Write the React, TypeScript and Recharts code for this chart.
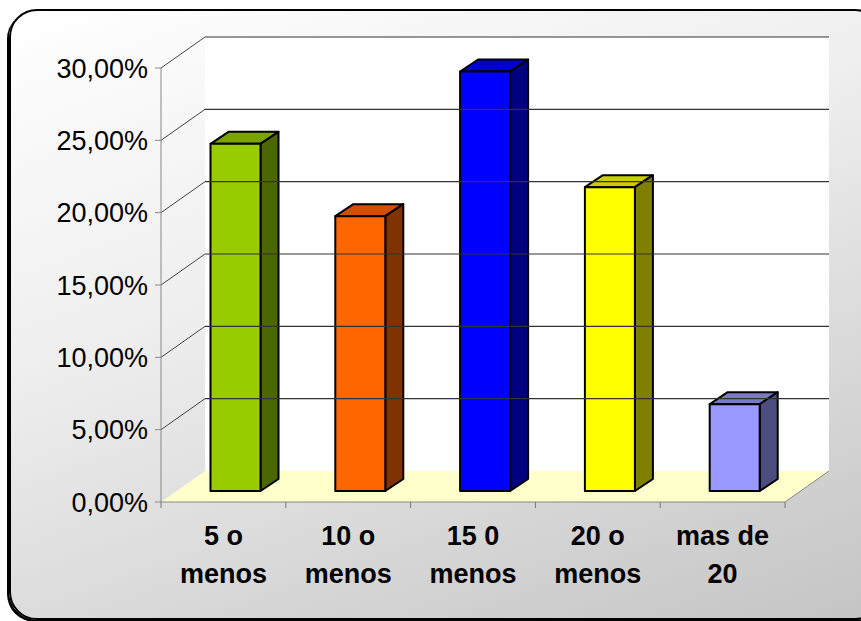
import React from "react";
import {
  BarChart, Bar, XAxis, YAxis, ReferenceArea, ReferenceLine, Cell,
} from "recharts";

const categories = ["5 o menos", "10 o menos", "15 0 menos", "20 o menos", "mas de 20"];
const shares = [24, 19, 29, 21, 6];
const yTicks = [0, 5, 10, 15, 20, 25, 30];

const frontColors = ["#99CC00", "#FF6600", "#0000FF", "#FFFF00", "#9999FF"];
const topColors = ["#7AA300", "#CC5200", "#0000CC", "#CCCC00", "#7A7ACC"];
const sideColors = ["#4C6600", "#803300", "#000080", "#808000", "#4D4D80"];

// 3D depth of the walls / floor and of the bars
const WALL_DX = 44, WALL_DY = -31;
const BAR_SHIFT_X = 12.5, BAR_SHIFT_Y = -11;
const BAR_DX = 18, BAR_DY = -12;

const rows = categories.map((name, i) => ({ name, value: shares[i], i }));

function Bar3D(props: any) {
  const { x, y, width, height, payload } = props;
  const i = payload.i;
  const fx = x + BAR_SHIFT_X, fy = y + BAR_SHIFT_Y;
  const w = width, h = height;
  const top = `${fx},${fy} ${fx + BAR_DX},${fy + BAR_DY} ${fx + w + BAR_DX},${fy + BAR_DY} ${fx + w},${fy}`;
  const side = `${fx + w},${fy} ${fx + w + BAR_DX},${fy + BAR_DY} ${fx + w + BAR_DX},${fy + h + BAR_DY} ${fx + w},${fy + h}`;
  return (
    <g stroke="#000" strokeWidth={2} strokeLinejoin="round">
      <polygon points={top} fill={topColors[i]} />
      <polygon points={side} fill={sideColors[i]} />
      <rect x={fx} y={fy} width={w} height={h} fill={frontColors[i]} />
    </g>
  );
}

function Walls(props: any) {
  const { x, y, width, height } = props;
  const bottom = y + height;
  const floor = `${x},${bottom} ${x + width},${bottom} ${x + width + WALL_DX},${bottom + WALL_DY} ${x + WALL_DX},${bottom + WALL_DY}`;
  return (
    <g>
      <rect x={x + WALL_DX} y={y + WALL_DY} width={width} height={height} fill="#fff" />
      <polygon points={floor} fill="#FFFFCC" />
      <line x1={x + width} y1={bottom} x2={x + width + WALL_DX} y2={bottom + WALL_DY} stroke="#888" strokeWidth={1} />
    </g>
  );
}

function GridLine(props: any) {
  const { x1, y1, x2, y2 } = props;
  return (
    <g>
      <line x1={x1} y1={y1} x2={x1 + WALL_DX} y2={y1 + WALL_DY} stroke="#444" strokeWidth={1} />
      <line x1={x1 + WALL_DX} y1={y1 + WALL_DY} x2={x2 + WALL_DX} y2={y2 + WALL_DY} stroke="#333" strokeWidth={1.2} />
    </g>
  );
}

function CatTick(props: any) {
  const { x, y, payload, index } = props;
  const off = payload.offset || 0;
  const label: string = payload.value;
  const cut = label.lastIndexOf(" ");
  const lines = [label.slice(0, cut), label.slice(cut + 1)];
  const axisY = y - 8;
  return (
    <g>
      <line x1={x - off} y1={axisY} x2={x - off} y2={axisY + 6} stroke="#777" />
      {index === categories.length - 1 && (
        <line x1={x + off} y1={axisY} x2={x + off} y2={axisY + 6} stroke="#777" />
      )}
      <text textAnchor="middle" fontFamily="Arial, 'Liberation Sans', sans-serif" fontWeight="bold" fontSize={27} fill="#000">
        {lines.map((t, k) => (
          <tspan key={k} x={x} y={axisY + 43 + k * 38}>{t}</tspan>
        ))}
      </text>
    </g>
  );
}

const pct = (v: number) => v.toFixed(2).replace(".", ",") + "%";

export default function App() {
  return (
    <div style={{ position: "absolute", left: 0, top: 0, width: 861, height: 621, overflow: "hidden" }}>
      <div
        style={{
          position: "absolute", left: 9, top: 9, width: 870, height: 607,
          border: "2px solid #000", borderRadius: 28,
          boxShadow: "-2px 2px 0 #000",
          background: "linear-gradient(160deg, #ffffff 0%, #eeeeee 40%, #c4c4c4 100%)",
        }}
      />
      <div style={{ position: "absolute", left: 0, top: 0 }}>
        <BarChart width={861} height={621} data={rows} margin={{ top: 68, right: 76, left: 0, bottom: 0 }} barSize={50}>
          <ReferenceArea y1={0} y2={30} shape={<Walls />} ifOverflow="visible" />
          {yTicks.filter((t) => t > 0).map((t) => (
            <ReferenceLine key={t} y={t} shape={<GridLine />} ifOverflow="visible" />
          ))}
          <XAxis
            dataKey="name"
            height={119}
            axisLine={{ stroke: "#888" }}
            tickLine={false}
            tick={<CatTick />}
            interval={0}
          />
          <YAxis
            width={161}
            domain={[0, 30]}
            ticks={yTicks}
            tickFormatter={pct}
            axisLine={{ stroke: "#888" }}
            tickLine={{ stroke: "#888" }}
            tickSize={6}
            tickMargin={7}
            tick={{ fill: "#000", fontSize: 27, fontFamily: "Arial, 'Liberation Sans', sans-serif" }}
          />
          <Bar dataKey="value" shape={<Bar3D />} isAnimationActive={false}>
            {rows.map((r) => (
              <Cell key={r.name} fill={frontColors[r.i]} />
            ))}
          </Bar>
        </BarChart>
      </div>
    </div>
  );
}
